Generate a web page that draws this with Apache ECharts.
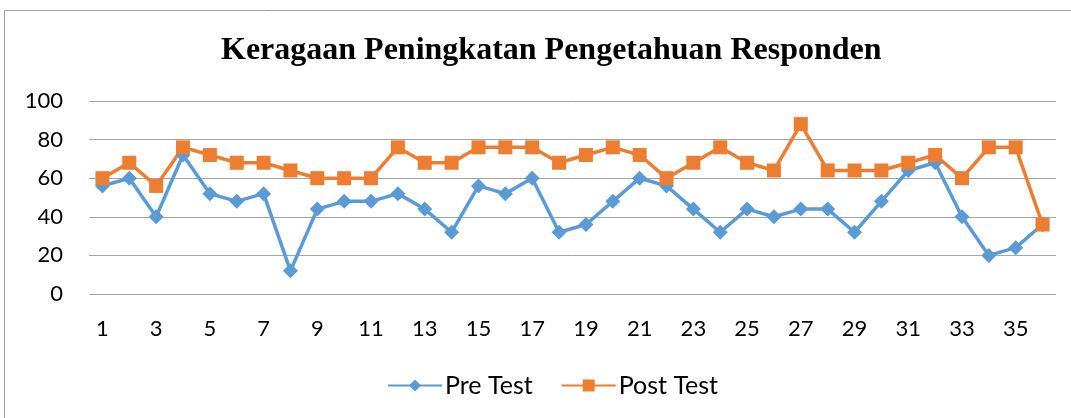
<!DOCTYPE html>
<html><head><meta charset="utf-8">
<script src="https://cdn.jsdelivr.net/npm/echarts@6/dist/echarts.min.js"></script>
<style>html,body{margin:0;padding:0;background:#fff}#c{width:1071px;height:418px}</style>
</head><body><div id="c"></div>
<script>
const categories = Array.from({length:36},(_,i)=>String(i+1));
const preTest = [56,60,40,72,52,48,52,12,44,48,48,52,44,32,56,52,60,32,36,48,60,56,44,32,44,40,44,44,32,48,64,68,40,20,24,36];
const postTest = [60,68,56,76,72,68,68,64,60,60,60,76,68,68,76,76,76,68,72,76,72,60,68,76,68,64,88,64,64,64,68,72,60,76,76,36];
const yTicks = [0,20,40,60,80,100];
const font = "Lato, 'Open Sans', sans-serif";
const chart = echarts.init(document.getElementById('c'));
chart.setOption({
  animation:false,
  graphic:[{type:'rect',shape:{x:4.5,y:10.5,width:1100,height:430},style:{fill:'none',stroke:'#a0a0a0',lineWidth:1}}],
  title:{text:'Keragaan Peningkatan Pengetahuan Responden',left:216,top:30,
    textStyle:{fontFamily:"'Liberation Serif','Times New Roman',serif",fontWeight:'bold',fontSize:32,color:'#000'}},
  legend:{bottom:15,left:382,itemWidth:54,itemHeight:15,itemGap:28,
    textStyle:{fontFamily:font,fontSize:25,color:'#000',padding:[0,0,0,-2]},
    data:['Pre Test','Post Test']},
  grid:{left:89,right:15,top:101,bottom:124},
  xAxis:{type:'category',data:categories,boundaryGap:true,
    axisLine:{show:false},axisTick:{show:false},
    axisLabel:{interval:1,fontFamily:font,fontSize:22,color:'#000',margin:24}},
  yAxis:{type:'value',min:0,max:100,interval:20,
    axisLabel:{fontFamily:font,fontSize:22,color:'#000',margin:26,formatter:v=>yTicks.includes(v)?String(v):''},
    splitLine:{lineStyle:{color:'#a6a6a6',width:1}}},
  series:[
    {name:'Pre Test',type:'line',data:preTest,symbol:'diamond',symbolSize:15,
      lineStyle:{color:'#5b9bd5',width:3.5},itemStyle:{color:'#5b9bd5'}},
    {name:'Post Test',type:'line',data:postTest,symbol:'rect',symbolSize:14,
      lineStyle:{color:'#ed7d31',width:3.5},itemStyle:{color:'#ed7d31'}}
  ]
});
</script></body></html>
